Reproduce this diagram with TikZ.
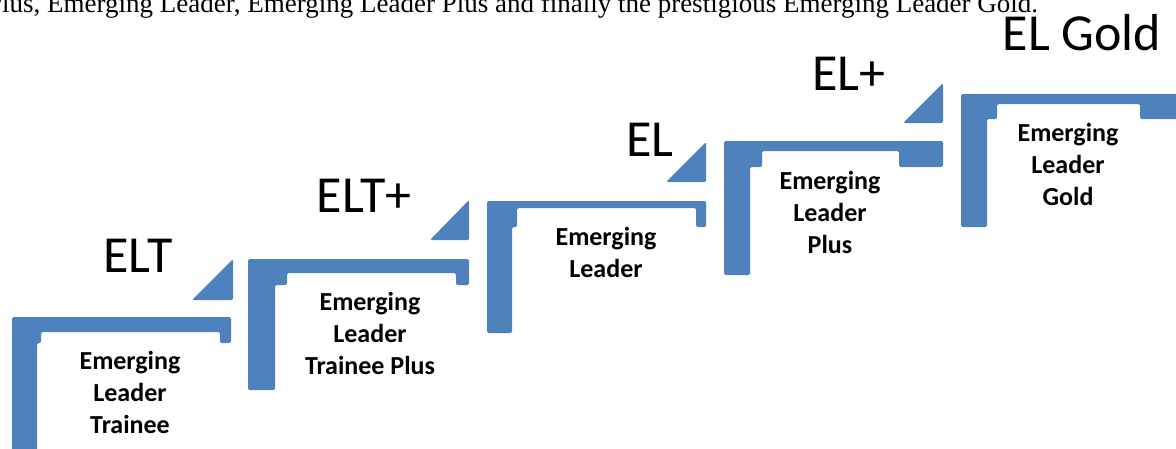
\documentclass[tikz,border=0pt]{standalone}
\usepackage{fontspec}
\setmainfont{Carlito}
\newfontfamily\linefont{Liberation Serif}
\definecolor{stairblue}{HTML}{4F81BD}

\tikzset{
  bar/.style={fill=stairblue,rounded corners=1.5pt},
  level/.style={font=\fontsize{52}{60}\selectfont,anchor=base,inner sep=0pt},
  rank/.style={font=\bfseries\fontsize{26}{32}\selectfont,align=center,inner sep=0pt},
}

\begin{document}
\begin{tikzpicture}[x=1pt,y=-1pt,line join=round]
      \useasboundingbox (0,0) rectangle (1176,448);
      \clip (0,0) rectangle (1176,448);
      % sentence running on from the text above
      \node[anchor=base west,inner sep=0pt,font=\linefont\fontsize{27}{32}\selectfont] (sentence) at (-13,12)
        {Plus, Emerging Leader, Emerging Leader Plus and finally the prestigious Emerging Leader Gold.};
      % the stairs: top bar with lip, then the riser
      \fill[bar] (12,317)--(231,317)--(231,343)--(220,343)--(220,332)--(41,332)--(41,343)--(37,343)--(37,470)--(12,470)--cycle;
      \fill[bar] (248,259)--(469,259)--(469,285)--(456,285)--(456,273)--(287,273)--(287,285)--(275,285)--(275,390)--(248,390)--cycle;
      \fill[bar] (487,201)--(706,201)--(706,227)--(696,227)--(696,208)--(517,208)--(517,227)--(512,227)--(512,333)--(487,333)--cycle;
      \fill[bar] (724,141)--(943,141)--(943,167)--(899,167)--(899,151)--(762,151)--(762,167)--(750,167)--(750,275)--(724,275)--cycle;
      \fill[bar] (961,94)--(1200,94)--(1200,119)--(1140,119)--(1140,104)--(997,104)--(997,119)--(987,119)--(987,227)--(961,227)--cycle;
      % wedges in front of each next step
      \fill[bar] (192,300)--(233,259)--(233,300)--cycle;
      \fill[bar] (430,240)--(469,200)--(469,240)--cycle;
      \fill[bar] (666,182)--(706,142)--(706,182)--cycle;
      \fill[bar] (903,123)--(943,83)--(943,123)--cycle;
      % short names
      \node[level] (elt)  at (138,272) {ELT};
      \node[level] (eltp) at (364,212) {ELT+};
      \node[level] (el)   at (650,156) {EL};
      \node[level] (elp)  at (849,90)  {EL+};
      \node[level] (elg)  at (1082,50) {EL Gold};
      % full names under each step
      \node[rank] (trainee)     at (130,392)  {Emerging\\Leader\\Trainee};
      \node[rank] (traineeplus) at (370,333)  {Emerging\\Leader\\Trainee Plus};
      \node[rank] (leader)      at (606,252)  {Emerging\\Leader};
      \node[rank] (leaderplus)  at (830,212)  {Emerging\\Leader\\Plus};
      \node[rank] (leadergold)  at (1068,164) {Emerging\\Leader\\Gold};
\end{tikzpicture}
\end{document}
